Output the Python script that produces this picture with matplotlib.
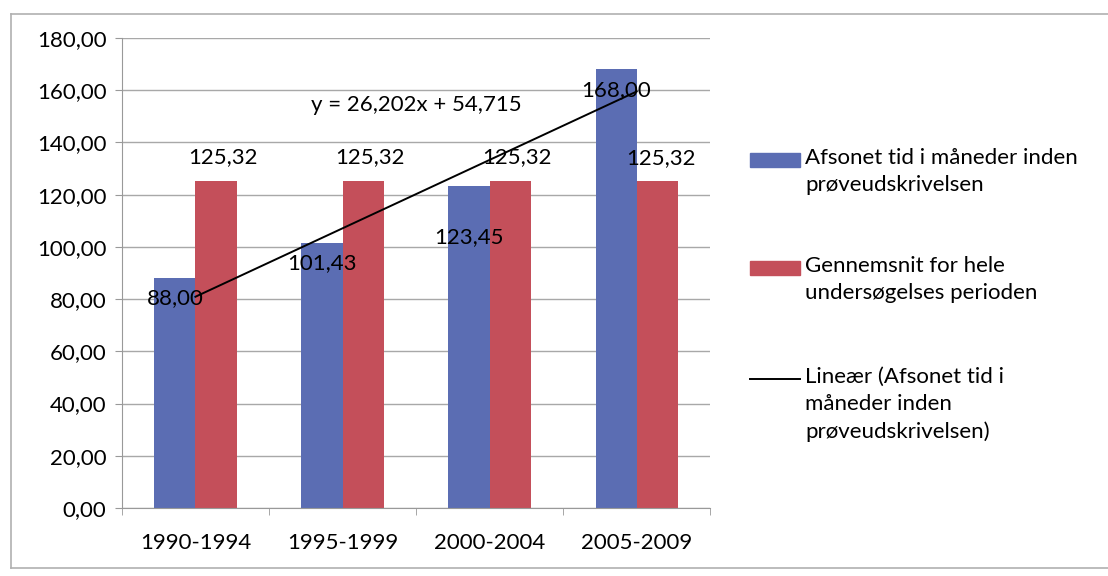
import numpy as np
import matplotlib
matplotlib.use('Agg')
import matplotlib.pyplot as plt
from matplotlib.lines import Line2D
from matplotlib.patches import Rectangle

# DATA
perioder = ['1990-1994', '1995-1999', '2000-2004', '2005-2009']
afsonet = [88.00, 101.43, 123.45, 168.00]
gennemsnit = [125.32, 125.32, 125.32, 125.32]
hældning = 26.202
skæring = 54.715
y_ticks = [0, 20, 40, 60, 80, 100, 120, 140, 160, 180]

navn_blaa = 'Afsonet tid i måneder inden\nprøveudskrivelsen'
navn_roed = 'Gennemsnit for hele\nundersøgelses perioden'
navn_linje = 'Lineær (Afsonet tid i\nmåneder inden\nprøveudskrivelsen)'

# label offsets (points) relative to bar top
off_blaa = [-14, -14, -37, -15]
off_roed = [17, 17, 17, 16]
dx_roed = [5, 5, 5, 3]

def fmt(v):
    return f'{v:.2f}'.replace('.', ',')

plt.rcParams['font.family'] = ['Lato', 'DejaVu Sans']
fs = 16
blaa = '#5b6db3'
roed = '#c44f5a'

fig = plt.figure(figsize=(11.08, 5.76), dpi=100)
ax = fig.add_axes([0.110, 0.118, 0.531, 0.816])

x = np.arange(len(perioder))
w = 0.28
ax.bar(x - w / 2, afsonet, w, color=blaa, zorder=2)
ax.bar(x + w / 2, gennemsnit, w, color=roed, zorder=2)

# trendline (x = 1..n in Excel terms)
xt = np.array([1, len(perioder)])
ax.plot(xt - 1, hældning * xt + skæring, color='black', lw=1.4, zorder=3)
ax.text(1.5, 154.5, f'y = {hældning:.3f}x + {skæring:.3f}'.replace('.', ','),
        ha='center', va='center', fontsize=fs, zorder=4)

for i in range(len(perioder)):
    ax.annotate(fmt(afsonet[i]), (x[i] - w / 2, afsonet[i]), xytext=(0, off_blaa[i]),
                textcoords='offset points', ha='center', va='center', fontsize=fs, zorder=4)
    ax.annotate(fmt(gennemsnit[i]), (x[i] + w / 2, gennemsnit[i]), xytext=(dx_roed[i], off_roed[i]),
                textcoords='offset points', ha='center', va='center', fontsize=fs, zorder=4)

ax.set_xlim(-0.5, len(perioder) - 0.5)
ax.set_ylim(0, 180)
ax.set_yticks(y_ticks)
ax.set_yticklabels([fmt(v) for v in y_ticks], fontsize=fs)
ax.set_xticks(x)
ax.set_xticklabels(perioder, fontsize=fs)
ax.set_xticks(np.arange(len(perioder) + 1) - 0.5, minor=True)
ax.tick_params(axis='x', which='major', length=0, pad=18)
ax.tick_params(axis='x', which='minor', length=5, color='#999999')
ax.tick_params(axis='y', length=5, color='#999999', pad=6)
ax.grid(axis='y', color='#a8a8a8', lw=1, zorder=0)
for s in ['top', 'right']:
    ax.spines[s].set_visible(False)
ax.spines['left'].set_color('#999999')
ax.spines['bottom'].set_color('#999999')

# legend, handle aligned with first text line (as in Excel)
W, H = 1108, 576
poster = [(navn_blaa, 'patch', blaa, 160), (navn_roed, 'patch', roed, 268), (navn_linje, 'line', 'black', 379)]
for tekst, art, farve, yp in poster:
    yf = 1 - yp / H
    if art == 'patch':
        fig.add_artist(Rectangle((750 / W, yf - 7 / H), 50 / W, 14 / H, color=farve,
                                 transform=fig.transFigure))
    else:
        fig.add_artist(Line2D([750 / W, 800 / W], [yf, yf], color=farve, lw=1.4,
                              transform=fig.transFigure))
    fig.text(805 / W, yf + 12 / H, tekst, ha='left', va='top', fontsize=fs, linespacing=1.45)

# outer chart border
kant = '#b0b0b0'
fig.add_artist(Line2D([0.010, 1.0], [0.975, 0.975], color=kant, lw=1.2, transform=fig.transFigure))
fig.add_artist(Line2D([0.010, 0.010], [0.975, 0.014], color=kant, lw=1.2, transform=fig.transFigure))
fig.add_artist(Line2D([0.010, 1.0], [0.014, 0.014], color=kant, lw=1.2, transform=fig.transFigure))

fig.savefig('out.png', dpi=100)
